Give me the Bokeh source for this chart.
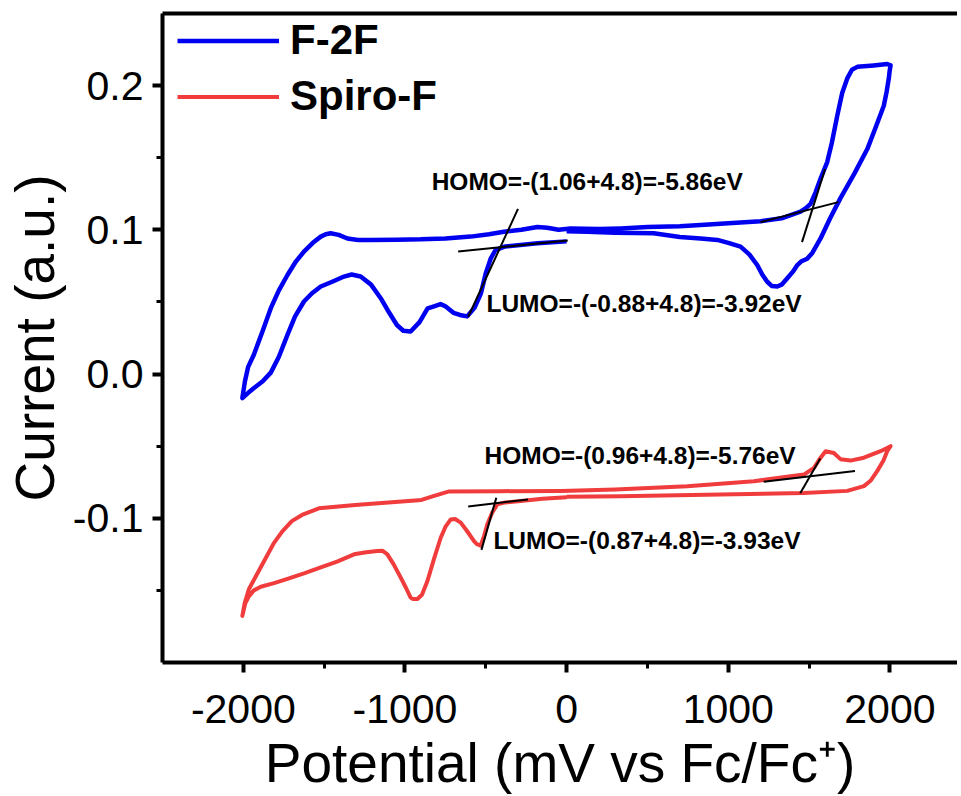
from bokeh.plotting import figure
from bokeh.models import (Range1d, FixedTicker, LinearAxis, Legend, LegendItem,
                          Label, PrintfTickFormatter)
from bokeh.embed import file_html
from bokeh.resources import INLINE

# ---------------- data ----------------
# F-2F cyclic voltammogram: start at 0 mV, sweep negative, then up to +2000, back to 0
f2f_x = [0, -180, -380, -440, -470, -500, -530, -570, -615, -660, -700, -750, -780,
         -820, -860, -910, -965, -1010, -1050, -1100, -1150, -1210, -1274, -1330,
         -1377, -1450, -1521, -1575, -1625, -1680, -1727, -1780, -1830, -1880, -1934,
         -1970, -2006,
         -1990, -1970, -1935, -1880, -1830, -1780, -1727, -1675, -1625, -1570, -1521,
         -1490, -1460, -1410, -1356, -1290, -1212, -1050, -903, -750, -594, -480,
         -388, -280, -181, -120, -50, 25, 200, 334, 500, 700, 829, 1000, 1200, 1330,
         1447, 1480, 1509, 1540, 1571, 1612, 1640, 1674, 1705, 1736, 1765, 1798, 1900,
         1983, 2004,
         1998, 1993, 1980, 1962, 1915, 1860, 1780, 1694, 1630, 1571, 1520, 1488, 1450,
         1427, 1400, 1365, 1330, 1303, 1270, 1241, 1210, 1179, 1130, 1076, 1000, 932,
         829, 700, 538, 300, 128, 0]
f2f_y = [0.092, 0.0907, 0.0885, 0.086, 0.080, 0.070, 0.056, 0.046, 0.040, 0.041,
         0.0425, 0.047, 0.0485, 0.047, 0.0455, 0.036, 0.0295, 0.030, 0.034, 0.043,
         0.0526, 0.062, 0.0676, 0.069, 0.0676, 0.064, 0.0607, 0.056, 0.0503, 0.040,
         0.0272, 0.012, 0.001, -0.005, -0.0097, -0.013, -0.0166,
         -0.005, 0.005, 0.0134, 0.030, 0.0457, 0.058, 0.0687, 0.078, 0.0849, 0.091,
         0.0953, 0.097, 0.0976, 0.0965, 0.094, 0.093, 0.093, 0.0932, 0.0934, 0.094,
         0.0953, 0.097, 0.0987, 0.100, 0.102, 0.1015, 0.100, 0.101, 0.1005, 0.101,
         0.102, 0.1025, 0.1033, 0.1045, 0.106, 0.108, 0.1126, 0.115, 0.118, 0.126,
         0.1356, 0.147, 0.160, 0.179, 0.195, 0.205, 0.211, 0.213, 0.214, 0.215, 0.214,
         0.210, 0.205, 0.196, 0.186, 0.172, 0.156, 0.139, 0.122, 0.108, 0.094, 0.084,
         0.080, 0.078, 0.0756, 0.071, 0.0664, 0.062, 0.0607, 0.061, 0.064, 0.069,
         0.0756, 0.083, 0.0884, 0.091, 0.093, 0.094, 0.095, 0.0976, 0.098, 0.0987,
         0.099]

# Spiro-F cyclic voltammogram
spiro_x = [0, -150, -284, -380, -429, -460, -490, -510, -532, -555, -573, -615, -655,
           -690, -717, -750, -779, -820, -861, -895, -923, -950, -965, -995, -1027,
           -1070, -1109, -1140, -1171, -1240, -1315, -1420, -1521, -1620, -1727, -1810,
           -1892, -1935, -1965, -1988, -2006,
           -1992, -1965, -1924, -1862, -1810, -1760, -1700, -1637, -1533, -1308, -897,
           -835, -732, -400, -34, 300, 746, 1158, 1468, 1530, 1571, 1602, 1653, 1694,
           1756, 1839, 1942, 2004,
           1983, 1960, 1921, 1880, 1839, 1736, 1468, 952, 334, 0]
spiro_y = [-0.0855, -0.0865, -0.088, -0.089, -0.0904, -0.096, -0.104, -0.112, -0.119,
           -0.118, -0.1158, -0.109, -0.103, -0.1005, -0.1008, -0.106, -0.1135, -0.128,
           -0.1435, -0.153, -0.156, -0.156, -0.155, -0.148, -0.141, -0.132, -0.125,
           -0.1225, -0.1227, -0.1235, -0.125, -0.130, -0.134, -0.138, -0.142, -0.145,
           -0.1475, -0.150, -0.154, -0.159, -0.1677,
           -0.159, -0.149, -0.1405, -0.1277, -0.117, -0.1092, -0.102, -0.0977,
           -0.0931, -0.0908, -0.0873, -0.085, -0.0815, -0.0812, -0.081, -0.080,
           -0.0778, -0.0743, -0.0697, -0.065, -0.058, -0.0535, -0.0547, -0.059, -0.060,
           -0.058, -0.0535, -0.050,
           -0.0535, -0.060, -0.0673, -0.074, -0.0777, -0.081, -0.0824, -0.0835, -0.0847,
           -0.085]

# onset tangent segments (x pairs in mV, y pairs in a.u.)
tan_xs = [[-609, -301], [-671, 7], [1199, 1681], [1456, 1599],
          [-609, -239], [-527, -435], [1219, 1784], [1445, 1569]]
tan_ys = [[0.0396, 0.1145], [0.085, 0.0926], [0.1053, 0.1192], [0.0915, 0.1422],
          [-0.0919, -0.0869], [-0.1219, -0.0857], [-0.0746, -0.0673], [-0.0827, -0.0585]]

series_names = ["F-2F", "Spiro-F"]
x_ticks = [-2000, -1000, 0, 1000, 2000]
x_minor = [-1500, -500, 500, 1500]
y_ticks = [-0.1, 0.0, 0.1, 0.2]
y_minor = [-0.15, -0.05, 0.05, 0.15]
notes = ["HOMO=-(1.06+4.8)=-5.86eV", "LUMO=-(-0.88+4.8)=-3.92eV",
         "HOMO=-(0.96+4.8)=-5.76eV", "LUMO=-(0.87+4.8)=-3.93eV"]

# ---------------- figure ----------------
FONT = "Liberation Sans"
BLUE = "#0000f0"
RED = "#f03c3c"

p = figure(width=957, height=796, output_backend="svg", toolbar_location=None,
           x_range=Range1d(-2500, 2418), y_range=Range1d(-0.2, 0.25),
           min_border_left=159, min_border_right=0, min_border_top=13,
           min_border_bottom=133, outline_line_color=None,
           background_fill_color="white", border_fill_color="white")
p.xgrid.visible = False
p.ygrid.visible = False

r1 = p.line(f2f_x, f2f_y, line_color=BLUE, line_width=4.5, line_join="round")
r2 = p.line(spiro_x, spiro_y, line_color=RED, line_width=4, line_join="round")
p.multi_line(tan_xs, tan_ys, line_color="black", line_width=2)

# axes
xa = p.xaxis[0]
xa.ticker = FixedTicker(ticks=x_ticks, minor_ticks=x_minor)
xa.formatter = PrintfTickFormatter(format="%d")
xa.axis_label = "Potential (mV vs Fc/Fc\u207a)"
ya = p.yaxis[0]
ya.ticker = FixedTicker(ticks=y_ticks, minor_ticks=y_minor)
ya.formatter = PrintfTickFormatter(format="%.1f")
ya.axis_label = "Current (a.u.)"

for ax in (xa, ya):
    ax.axis_line_width = 4
    ax.axis_line_color = "black"
    ax.major_tick_line_width = 4
    ax.major_tick_out = 10
    ax.major_tick_in = 0
    ax.minor_tick_line_width = 3
    ax.minor_tick_out = 6
    ax.minor_tick_in = 0
    ax.major_label_text_font = FONT
    ax.axis_label_text_font = FONT
    ax.axis_label_text_font_style = "normal"
    ax.major_label_text_color = "black"
    ax.axis_label_text_color = "black"

xa.major_label_text_font_size = "41px"
xa.axis_label_text_font_size = "55px"
xa.major_label_standoff = 22
xa.axis_label_standoff = 6
ya.major_label_text_font_size = "41px"
ya.axis_label_text_font_size = "55px"
ya.major_label_standoff = 9
ya.axis_label_standoff = 4

top = LinearAxis(ticker=FixedTicker(ticks=[]), major_label_text_font_size="0px",
                 axis_line_width=4, major_tick_out=0, minor_tick_out=0,
                 major_tick_in=0, minor_tick_in=0, major_label_standoff=0)
p.add_layout(top, "above")

# legend
legend = Legend(items=[LegendItem(label=series_names[0], renderers=[r1]),
                       LegendItem(label=series_names[1], renderers=[r2])],
                location=(15, 542), margin=0, padding=0, spacing=8,
                glyph_width=102, glyph_height=45, label_height=45, label_standoff=11,
                label_text_font=FONT, label_text_font_size="42px",
                label_text_font_style="bold", label_text_color="black",
                border_line_color=None, background_fill_alpha=0)
p.add_layout(legend, "center")

# annotations
note_pos = [(-835, 0.1332), (-496, 0.0488), (-508, -0.0564), (-453, -0.1152)]
for txt, (lx, ly) in zip(notes, note_pos):
    p.add_layout(Label(x=lx, y=ly, text=txt, text_font=FONT,
                       text_font_size="24.5px", text_font_style="bold",
                       text_baseline="middle", text_align="left", text_color="black"))

open("out.html", "w").write(file_html(p, INLINE))
